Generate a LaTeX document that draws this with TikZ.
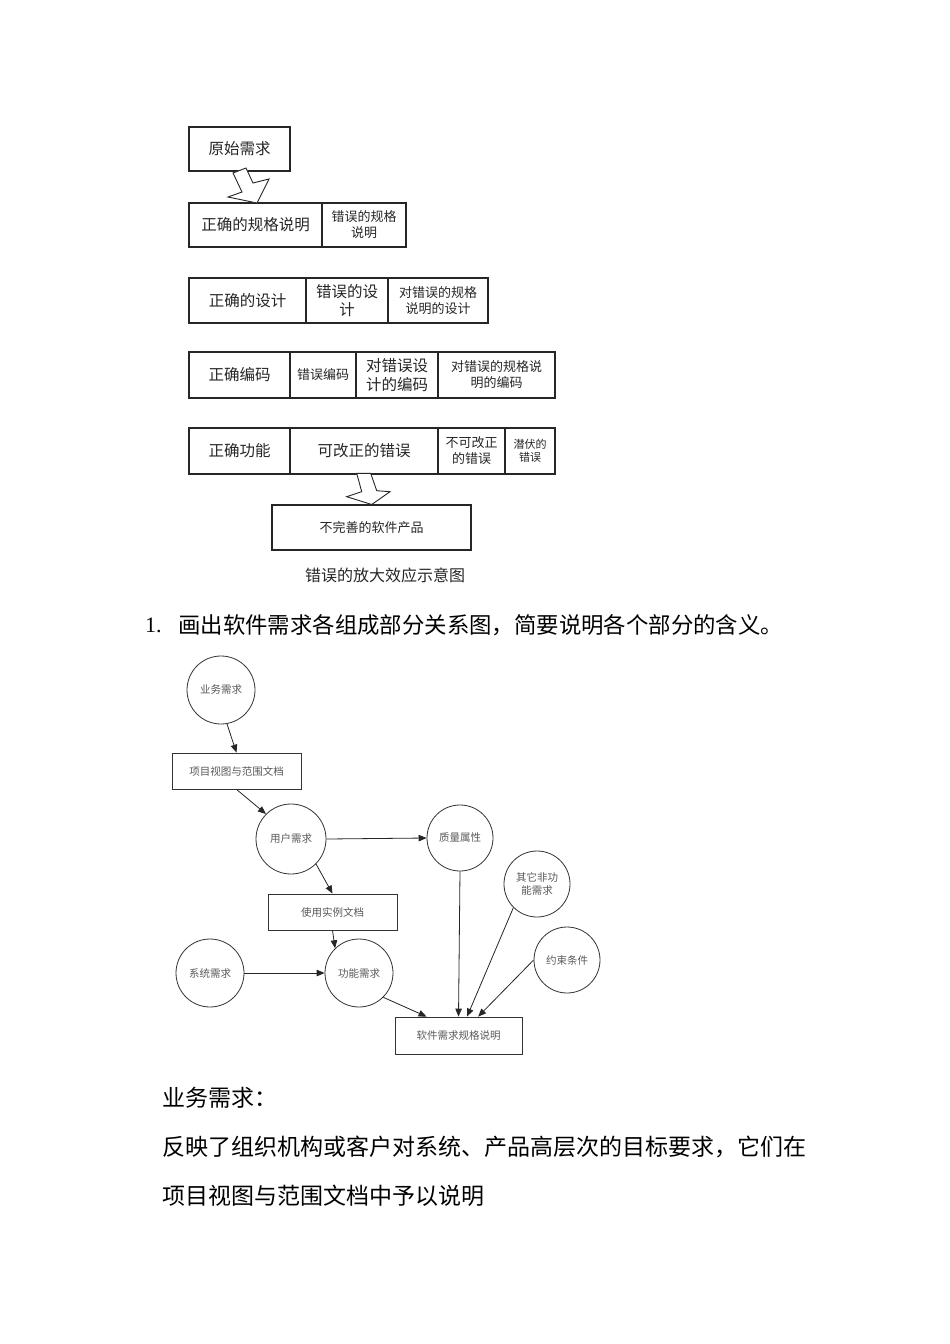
\documentclass[tikz,border=0pt]{standalone}
\usepackage{fontspec}
\setmainfont{Liberation Serif}
\newfontfamily\cjk{Noto Sans CJK SC}
\usetikzlibrary{arrows.meta,calc}
\begin{document}
\begin{tikzpicture}[x=1pt,y=-1pt,
  cell/.style={draw=black!85, line width=1.1pt, inner sep=0pt, align=center, text=black!85, font=\cjk\fontsize{15.5}{18.5}\selectfont},
  csmall/.style={font=\cjk\fontsize{13}{16}\selectfont},
  ctiny/.style={font=\cjk\fontsize{11}{13.5}\selectfont},
  hollow/.style={draw=black!85, line width=0.9pt, fill=white, line join=miter},
  circ/.style={circle, draw=black!80, line width=0.8pt, inner sep=0pt, align=center, text=black!65, font=\cjk\fontsize{10.5}{13}\selectfont},
  rbox/.style={draw=black!80, line width=0.8pt, inner sep=0pt, text=black!65, font=\cjk\fontsize{10.5}{13}\selectfont},
  arr/.style={-{Triangle[length=8pt,width=6.5pt]}, line width=0.8pt, draw=black!85},
  para/.style={anchor=west, inner sep=0pt, text=black, font=\cjk\fontsize{23}{27}\selectfont}
]
\useasboundingbox[fill=white] (0,0) rectangle (950,1344);

% ---------- top diagram ----------
\node[cell, minimum width=101pt, minimum height=44pt] (yuan) at (239.5,149) {原始需求};
\node[cell, minimum width=133pt, minimum height=44pt] (r1a) at (255.5,225) {正确的规格说明};
\node[cell, csmall, minimum width=84pt, minimum height=44pt] (r1b) at (364,225) {错误的规格\\说明};

\node[cell, minimum width=117pt, minimum height=45pt] (r2a) at (247.5,300.5) {正确的设计};
\node[cell, minimum width=82pt, minimum height=45pt] (r2b) at (347,300.5) {错误的设\\计};
\node[cell, csmall, minimum width=100pt, minimum height=45pt] (r2c) at (438,300.5) {对错误的规格\\说明的设计};

\node[cell, minimum width=101pt, minimum height=46pt] (r3a) at (239.5,375) {正确编码};
\node[cell, csmall, minimum width=66pt, minimum height=46pt] (r3b) at (323,375) {错误编码};
\node[cell, minimum width=82pt, minimum height=46pt] (r3c) at (397,375) {对错误设\\计的编码};
\node[cell, csmall, minimum width=117pt, minimum height=46pt] (r3d) at (496.5,375) {对错误的规格说\\明的编码};

\node[cell, minimum width=101pt, minimum height=46pt] (r4a) at (239.5,451) {正确功能};
\node[cell, minimum width=148pt, minimum height=46pt] (r4b) at (364,451) {可改正的错误};
\node[cell, csmall, minimum width=67pt, minimum height=46pt] (r4c) at (471.5,451) {不可改正\\的错误};
\node[cell, ctiny, minimum width=50pt, minimum height=46pt] (r4d) at (530,451) {潜伏的\\错误};

\node[cell, csmall, minimum width=199pt, minimum height=45pt] (prod) at (371.5,527.5) {不完善的软件产品};
\node[inner sep=0pt, text=black!85, font=\cjk\fontsize{16}{19}\selectfont] (cap) at (385,575) {错误的放大效应示意图};

\draw[hollow] (233,173) -- (246,168) -- (253,183) -- (269,179) -- (257,203) -- (228,197) -- (242,192) -- cycle;
\draw[hollow] (356.7,473.3) -- (361.7,491.7) -- (346.7,496.7) -- (371.7,504.5) -- (390,491.7) -- (376.7,490.7) -- (370.7,473.3) -- cycle;

% ---------- text ----------
\node[anchor=west, inner sep=0pt, font=\fontsize{22}{26}\selectfont] (num) at (145,625) {1.};
\node[para, font=\cjk\fontsize{22.4}{26}\selectfont] (q1) at (178,625) {画出软件需求各组成部分关系图，简要说明各个部分的含义。};

% ---------- bottom diagram ----------
\node[circ, minimum size=68pt] (bus) at (221,690) {业务需求};
\node[rbox, minimum width=129pt, minimum height=36pt] (proj) at (236.5,771) {项目视图与范围文档};
\node[circ, minimum size=70pt] (user) at (291,839) {用户需求};
\node[circ, minimum size=66pt] (qual) at (460,838) {质量属性};
\node[circ, minimum size=66pt] (other) at (537,884) {其它非功\\能需求};
\node[circ, minimum size=66pt] (cons) at (567,960) {约束条件};
\node[rbox, minimum width=129pt, minimum height=36pt] (usecase) at (332.5,912) {使用实例文档};
\node[circ, minimum size=68pt] (sys) at (210,973) {系统需求};
\node[circ, minimum size=68pt] (func) at (359,973) {功能需求};
\node[rbox, minimum width=127pt, minimum height=37pt] (srs) at (458.5,1035.5) {软件需求规格说明};

\draw[arr] (bus.-80) -- (proj.north);
\draw[arr] (proj.south) -- (user.135);
\draw[arr] (user.east) -- (qual.west);
\draw[arr] (user.-45) -- (usecase.north);
\draw[arr] (usecase.south) -- (func.134);
\draw[arr] (sys.east) -- (func.west);
\draw[arr] (func.-45) -- ($(srs.north west)!0.25!(srs.north east)$);
\draw[arr] (qual.south) -- ($(srs.north west)!0.5!(srs.north east)$);
\draw[arr] (other.-135) -- ($(srs.north west)!0.567!(srs.north east)$);
\draw[arr] (cons.west) -- ($(srs.north west)!0.654!(srs.north east)$);

% ---------- answer text ----------
\node[para] (t1) at (162,1098) {业务需求：};
\node[para] (t2) at (162,1147) {反映了组织机构或客户对系统、产品高层次的目标要求，它们在};
\node[para] (t3) at (162,1196) {项目视图与范围文档中予以说明};
\end{tikzpicture}
\end{document}
